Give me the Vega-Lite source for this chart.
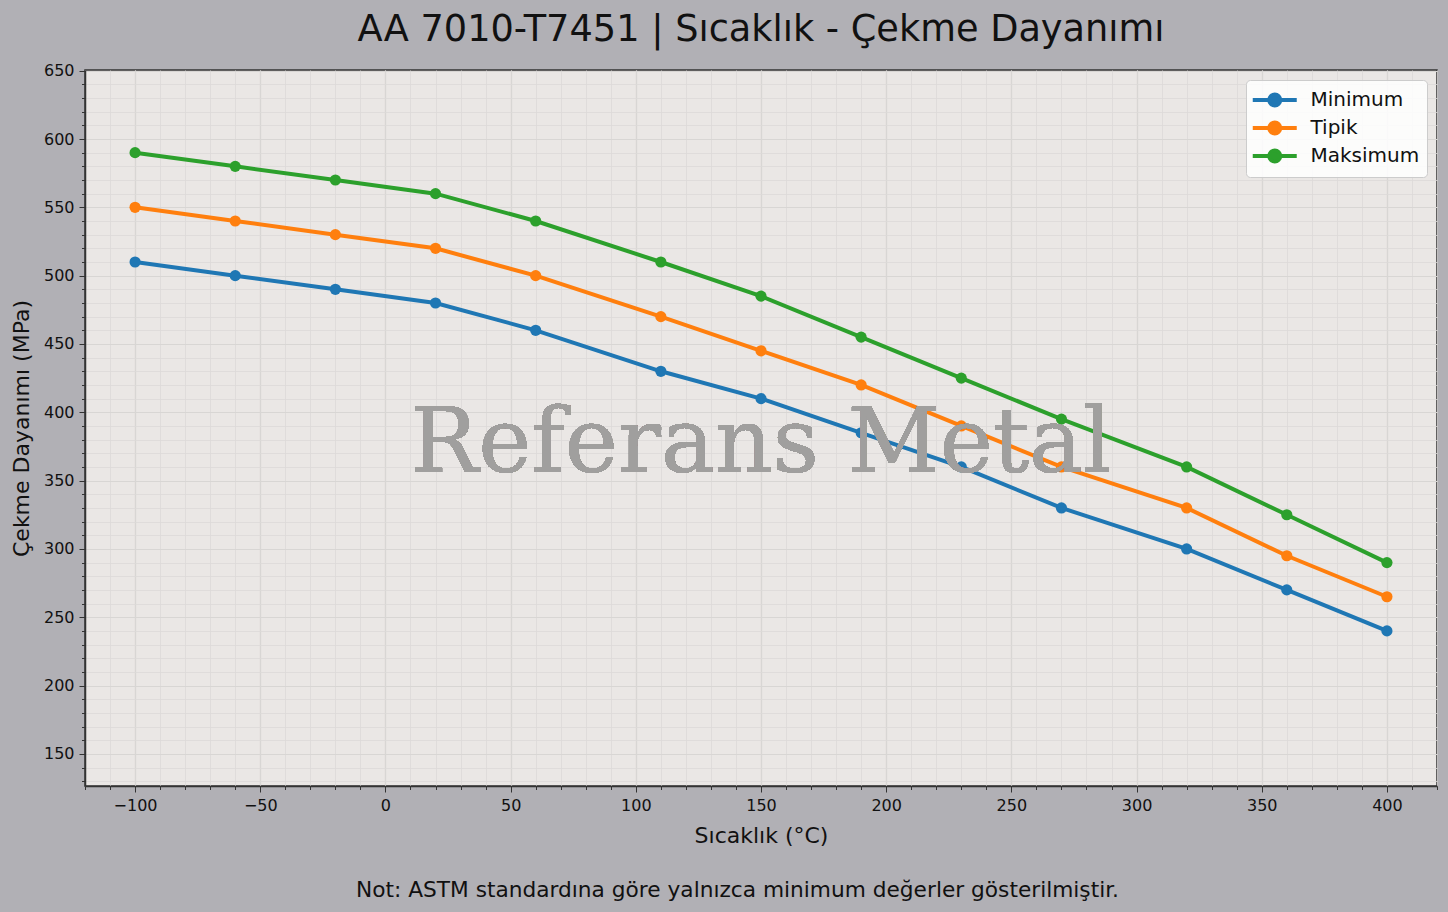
{
  "$schema": "https://vega.github.io/schema/vega-lite/v6.json",
  "width": 1352,
  "height": 716,
  "autosize": "none",
  "padding": {"left": 85, "top": 70, "right": 11, "bottom": 126},
  "background": "#b1b0b5",
  "config": {
    "font": "DejaVu Sans",
    "view": {"fill": "#eae7e5", "stroke": "#333333", "strokeWidth": 1.5},
    "axis": {"labelFont": "DejaVu Sans", "titleFont": "DejaVu Sans", "labelColor": "#111111", "titleColor": "#111111", "titleFontWeight": "normal"}
  },
  "title": {
    "text": "AA 7010-T7451 | Sıcaklık - Çekme Dayanımı",
    "fontSize": 36.7,
    "fontWeight": "normal",
    "color": "#111111",
    "anchor": "middle",
    "offset": 14
  },
  "data": {
    "values": [
      {"temp": -100, "seri": "Minimum", "deger": 510},
      {"temp": -60, "seri": "Minimum", "deger": 500},
      {"temp": -20, "seri": "Minimum", "deger": 490},
      {"temp": 20, "seri": "Minimum", "deger": 480},
      {"temp": 60, "seri": "Minimum", "deger": 460},
      {"temp": 110, "seri": "Minimum", "deger": 430},
      {"temp": 150, "seri": "Minimum", "deger": 410},
      {"temp": 190, "seri": "Minimum", "deger": 385},
      {"temp": 230, "seri": "Minimum", "deger": 360},
      {"temp": 270, "seri": "Minimum", "deger": 330},
      {"temp": 320, "seri": "Minimum", "deger": 300},
      {"temp": 360, "seri": "Minimum", "deger": 270},
      {"temp": 400, "seri": "Minimum", "deger": 240},
      {"temp": -100, "seri": "Tipik", "deger": 550},
      {"temp": -60, "seri": "Tipik", "deger": 540},
      {"temp": -20, "seri": "Tipik", "deger": 530},
      {"temp": 20, "seri": "Tipik", "deger": 520},
      {"temp": 60, "seri": "Tipik", "deger": 500},
      {"temp": 110, "seri": "Tipik", "deger": 470},
      {"temp": 150, "seri": "Tipik", "deger": 445},
      {"temp": 190, "seri": "Tipik", "deger": 420},
      {"temp": 230, "seri": "Tipik", "deger": 390},
      {"temp": 270, "seri": "Tipik", "deger": 360},
      {"temp": 320, "seri": "Tipik", "deger": 330},
      {"temp": 360, "seri": "Tipik", "deger": 295},
      {"temp": 400, "seri": "Tipik", "deger": 265},
      {"temp": -100, "seri": "Maksimum", "deger": 590},
      {"temp": -60, "seri": "Maksimum", "deger": 580},
      {"temp": -20, "seri": "Maksimum", "deger": 570},
      {"temp": 20, "seri": "Maksimum", "deger": 560},
      {"temp": 60, "seri": "Maksimum", "deger": 540},
      {"temp": 110, "seri": "Maksimum", "deger": 510},
      {"temp": 150, "seri": "Maksimum", "deger": 485},
      {"temp": 190, "seri": "Maksimum", "deger": 455},
      {"temp": 230, "seri": "Maksimum", "deger": 425},
      {"temp": 270, "seri": "Maksimum", "deger": 395},
      {"temp": 320, "seri": "Maksimum", "deger": 360},
      {"temp": 360, "seri": "Maksimum", "deger": 325},
      {"temp": 400, "seri": "Maksimum", "deger": 290}
    ]
  },
  "layer": [
    {
      "mark": {"type": "line", "strokeWidth": 4, "point": {"filled": true, "size": 125}},
      "encoding": {
        "x": {
          "field": "temp",
          "type": "quantitative",
          "scale": {"domain": [-120, 420], "nice": false, "zero": false},
          "axis": {
            "orient": "bottom",
            "values": [-100, -50, 0, 50, 100, 150, 200, 250, 300, 350, 400],
            "title": "Sıcaklık (°C)",
            "titleFontSize": 22,
            "titlePadding": 12,
            "labelFontSize": 16,
            "labelPadding": 5,
            "tickSize": 6,
            "tickColor": "#333333",
            "domainColor": "#333333",
            "domainWidth": 1.5,
            "grid": true,
            "gridColor": "#cac7c6",
            "gridWidth": 1.2
          }
        },
        "y": {
          "field": "deger",
          "type": "quantitative",
          "scale": {"domain": [126.5, 650.5], "nice": false, "zero": false},
          "axis": {
            "orient": "left",
            "values": [150, 200, 250, 300, 350, 400, 450, 500, 550, 600, 650],
            "title": "Çekme Dayanımı (MPa)",
            "titleFontSize": 22,
            "titlePadding": 10,
            "labelFontSize": 16,
            "labelPadding": 5,
            "tickSize": 6,
            "tickColor": "#333333",
            "domainColor": "#333333",
            "domainWidth": 1.5,
            "grid": true,
            "gridColor": "#cac7c6",
            "gridWidth": 1.2
          }
        },
        "color": {
          "field": "seri",
          "type": "nominal",
          "scale": {"domain": ["Minimum", "Tipik", "Maksimum"], "range": ["#1f77b4", "#ff7f0e", "#2ca02c"]},
          "legend": {
            "title": null,
            "orient": "top-right",
            "offset": 10,
            "padding": 7,
            "fillColor": "rgba(255,255,255,0.85)",
            "strokeColor": "#cccccc",
            "cornerRadius": 4,
            "labelFontSize": 20,
            "labelColor": "#111111",
            "labelOffset": 22.75,
            "rowPadding": 0,
            "symbolOffset": 8.75,
            "symbolType": "M-2,0H2M0.5,0A0.5,0.5,0,1,1,-0.5,0A0.5,0.5,0,1,1,0.5,0Z",
            "symbolSize": 484,
            "symbolStrokeWidth": 4,
            "encode": {
              "symbols": {"update": {"fill": {"scale": "color", "field": "value"}, "fillOpacity": {"value": 1}}}
            }
          }
        }
      }
    },
    {
      "mark": {"type": "text", "font": "DejaVu Serif", "fontSize": 90, "fill": "#a09f9e", "fillOpacity": 0.85, "align": "center", "baseline": "alphabetic"},
      "encoding": {
        "text": {"value": "Referans Metal"},
        "x": {
          "datum": 150,
          "type": "quantitative",
          "axis": {
            "orient": "bottom",
            "values": [-120, -110, -100, -90, -80, -70, -60, -50, -40, -30, -20, -10, 0, 10, 20, 30, 40, 50, 60, 70, 80, 90, 100, 110, 120, 130, 140, 150, 160, 170, 180, 190, 200, 210, 220, 230, 240, 250, 260, 270, 280, 290, 300, 310, 320, 330, 340, 350, 360, 370, 380, 390, 400, 410, 420],
            "labels": false,
            "domain": false,
            "tickSize": 3.5,
            "tickColor": "#333333",
            "grid": true,
            "gridColor": "#dcd9d8",
            "gridWidth": 0.8,
            "title": "Not: ASTM standardına göre yalnızca minimum değerler gösterilmiştir.",
            "titleFontSize": 21.7,
            "titlePadding": 89,
            "titleX": 652,
            "titleAlign": "center"
          }
        },
        "y": {
          "datum": 356,
          "type": "quantitative",
          "axis": {
            "orient": "left",
            "values": [130, 140, 150, 160, 170, 180, 190, 200, 210, 220, 230, 240, 250, 260, 270, 280, 290, 300, 310, 320, 330, 340, 350, 360, 370, 380, 390, 400, 410, 420, 430, 440, 450, 460, 470, 480, 490, 500, 510, 520, 530, 540, 550, 560, 570, 580, 590, 600, 610, 620, 630, 640, 650],
            "labels": false,
            "domain": false,
            "tickSize": 3.5,
            "tickColor": "#333333",
            "grid": true,
            "gridColor": "#dcd9d8",
            "gridWidth": 0.8,
            "title": null
          }
        }
      }
    }
  ],
  "resolve": {"axis": {"x": "independent", "y": "independent"}}
}
